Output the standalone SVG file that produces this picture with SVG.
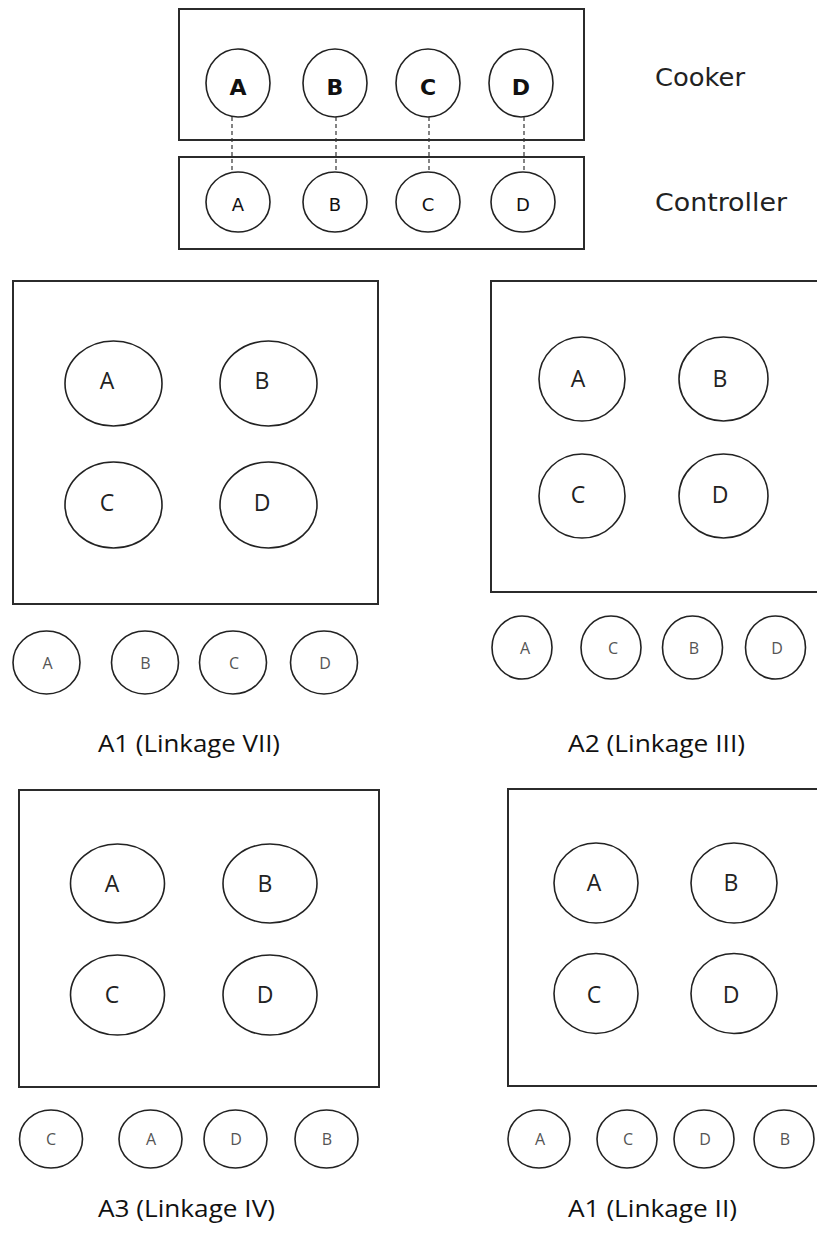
<svg xmlns="http://www.w3.org/2000/svg" width="817" height="1252" viewBox="0 0 817 1252">
<style>
.box{fill:none;stroke:#2b2b2b;stroke-width:2}
.ring{fill:none;stroke:#222;stroke-width:1.6}
.dash{stroke:#333;stroke-width:1.2;stroke-dasharray:4 3}
.big{font-family:"DejaVu Sans",sans-serif;font-weight:bold;font-size:22px;fill:#111;text-anchor:middle}
.ctl{font-family:"DejaVu Sans",sans-serif;font-size:18px;fill:#111;text-anchor:middle}
.side{font-family:"DejaVu Sans",sans-serif;font-size:24px;fill:#222}
.pl{font-family:"Open Sans",sans-serif;font-size:23px;fill:#222;text-anchor:middle}
.sm{font-family:"Open Sans",sans-serif;font-size:16px;fill:#555;text-anchor:middle}
.title{font-family:"Open Sans",sans-serif;font-size:24px;fill:#111}
</style>
<rect width="817" height="1252" fill="#fff"/>

<g id="cooker">
<rect class="box" x="179" y="9" width="405" height="131"/>
<ellipse class="ring" cx="238" cy="83" rx="32" ry="34"/><text class="big" x="238" y="95">A</text>
<ellipse class="ring" cx="335" cy="83" rx="32" ry="34"/><text class="big" x="335" y="95">B</text>
<ellipse class="ring" cx="428" cy="83" rx="32" ry="34"/><text class="big" x="428" y="95">C</text>
<ellipse class="ring" cx="521" cy="83" rx="32" ry="34"/><text class="big" x="521" y="95">D</text>
<text class="side" x="655" y="86" textLength="90" lengthAdjust="spacingAndGlyphs">Cooker</text>
</g>

<g id="controller">
<rect class="box" x="179" y="157" width="405" height="92"/>
<ellipse class="ring" cx="238" cy="202" rx="32" ry="30"/><text class="ctl" x="238" y="211">A</text>
<ellipse class="ring" cx="335" cy="202" rx="32" ry="30"/><text class="ctl" x="335" y="211">B</text>
<ellipse class="ring" cx="428" cy="202" rx="32" ry="30"/><text class="ctl" x="428" y="211">C</text>
<ellipse class="ring" cx="523" cy="202" rx="32" ry="30"/><text class="ctl" x="523" y="211">D</text>
<text class="side" x="655" y="211" textLength="132" lengthAdjust="spacingAndGlyphs">Controller</text>
</g>

<g id="connectors">
<line class="dash" x1="232" y1="117" x2="232" y2="172"/>
<line class="dash" x1="336" y1="117" x2="336" y2="172"/>
<line class="dash" x1="429" y1="117" x2="429" y2="172"/>
<line class="dash" x1="524" y1="117" x2="524" y2="172"/>
</g>

<g id="panel-a1-vii">
<rect class="box" x="13" y="281" width="365" height="323"/>
<ellipse class="ring" cx="113.5" cy="383.5" rx="48.5" ry="42.5"/><text class="pl" x="107" y="389">A</text>
<ellipse class="ring" cx="268.5" cy="383.5" rx="48.5" ry="42.5"/><text class="pl" x="262" y="389">B</text>
<ellipse class="ring" cx="113.5" cy="505" rx="48.5" ry="43"/><text class="pl" x="107" y="511">C</text>
<ellipse class="ring" cx="268.5" cy="505" rx="48.5" ry="43"/><text class="pl" x="262" y="511">D</text>
<ellipse class="ring" cx="46.5" cy="662.5" rx="33.5" ry="31.5"/><text class="sm" x="47.5" y="669">A</text>
<ellipse class="ring" cx="145" cy="662.5" rx="33.5" ry="31.5"/><text class="sm" x="145.5" y="669">B</text>
<ellipse class="ring" cx="233" cy="662.5" rx="33.5" ry="31.5"/><text class="sm" x="234" y="669">C</text>
<ellipse class="ring" cx="324" cy="662.5" rx="33.5" ry="31.5"/><text class="sm" x="325" y="669">D</text>
<text class="title" x="98" y="752" textLength="182" lengthAdjust="spacingAndGlyphs">A1 (Linkage VII)</text>
</g>

<g id="panel-a2-iii">
<rect class="box" x="491" y="281" width="340" height="311"/>
<ellipse class="ring" cx="582" cy="379" rx="43" ry="42"/><text class="pl" x="578" y="387">A</text>
<ellipse class="ring" cx="723.5" cy="379" rx="44.5" ry="42"/><text class="pl" x="720" y="387">B</text>
<ellipse class="ring" cx="582" cy="496" rx="43" ry="42"/><text class="pl" x="578" y="503">C</text>
<ellipse class="ring" cx="723.5" cy="496" rx="44.5" ry="42"/><text class="pl" x="720" y="503">D</text>
<ellipse class="ring" cx="522" cy="647.5" rx="30" ry="31.5"/><text class="sm" x="525" y="654">A</text>
<ellipse class="ring" cx="611" cy="647.5" rx="30" ry="31.5"/><text class="sm" x="613" y="654">C</text>
<ellipse class="ring" cx="692.5" cy="647.5" rx="30" ry="31.5"/><text class="sm" x="694" y="654">B</text>
<ellipse class="ring" cx="775.5" cy="647.5" rx="30" ry="31.5"/><text class="sm" x="777" y="654">D</text>
<text class="title" x="568" y="752" textLength="177" lengthAdjust="spacingAndGlyphs">A2 (Linkage III)</text>
</g>

<g id="panel-a3-iv">
<rect class="box" x="19" y="790" width="360" height="297"/>
<ellipse class="ring" cx="117.5" cy="883.5" rx="47" ry="39.5"/><text class="pl" x="112" y="892">A</text>
<ellipse class="ring" cx="270" cy="883.5" rx="47" ry="39.5"/><text class="pl" x="265" y="892">B</text>
<ellipse class="ring" cx="117.5" cy="995" rx="47" ry="40"/><text class="pl" x="112" y="1003">C</text>
<ellipse class="ring" cx="270" cy="995" rx="47" ry="40"/><text class="pl" x="265" y="1003">D</text>
<ellipse class="ring" cx="51" cy="1139" rx="31.5" ry="29"/><text class="sm" x="51" y="1145">C</text>
<ellipse class="ring" cx="150.5" cy="1139" rx="31.5" ry="29"/><text class="sm" x="151" y="1145">A</text>
<ellipse class="ring" cx="235.5" cy="1139" rx="31.5" ry="29"/><text class="sm" x="236" y="1145">D</text>
<ellipse class="ring" cx="326.5" cy="1139" rx="31.5" ry="29"/><text class="sm" x="327" y="1145">B</text>
<text class="title" x="98" y="1217" textLength="177" lengthAdjust="spacingAndGlyphs">A3 (Linkage IV)</text>
</g>

<g id="panel-a1-ii">
<rect class="box" x="508" y="789" width="320" height="297"/>
<ellipse class="ring" cx="596" cy="883" rx="42" ry="40"/><text class="pl" x="594" y="891">A</text>
<ellipse class="ring" cx="734" cy="883" rx="43" ry="40"/><text class="pl" x="731" y="891">B</text>
<ellipse class="ring" cx="596" cy="993.5" rx="42" ry="40"/><text class="pl" x="594" y="1003">C</text>
<ellipse class="ring" cx="734" cy="993.5" rx="43" ry="40"/><text class="pl" x="731" y="1003">D</text>
<ellipse class="ring" cx="539" cy="1139" rx="31" ry="29"/><text class="sm" x="540" y="1145">A</text>
<ellipse class="ring" cx="627" cy="1139" rx="30" ry="29"/><text class="sm" x="628" y="1145">C</text>
<ellipse class="ring" cx="704" cy="1139" rx="30" ry="29"/><text class="sm" x="705" y="1145">D</text>
<ellipse class="ring" cx="784" cy="1139" rx="30" ry="29"/><text class="sm" x="785" y="1145">B</text>
<text class="title" x="568" y="1217" textLength="169" lengthAdjust="spacingAndGlyphs">A1 (Linkage II)</text>
</g>
</svg>
